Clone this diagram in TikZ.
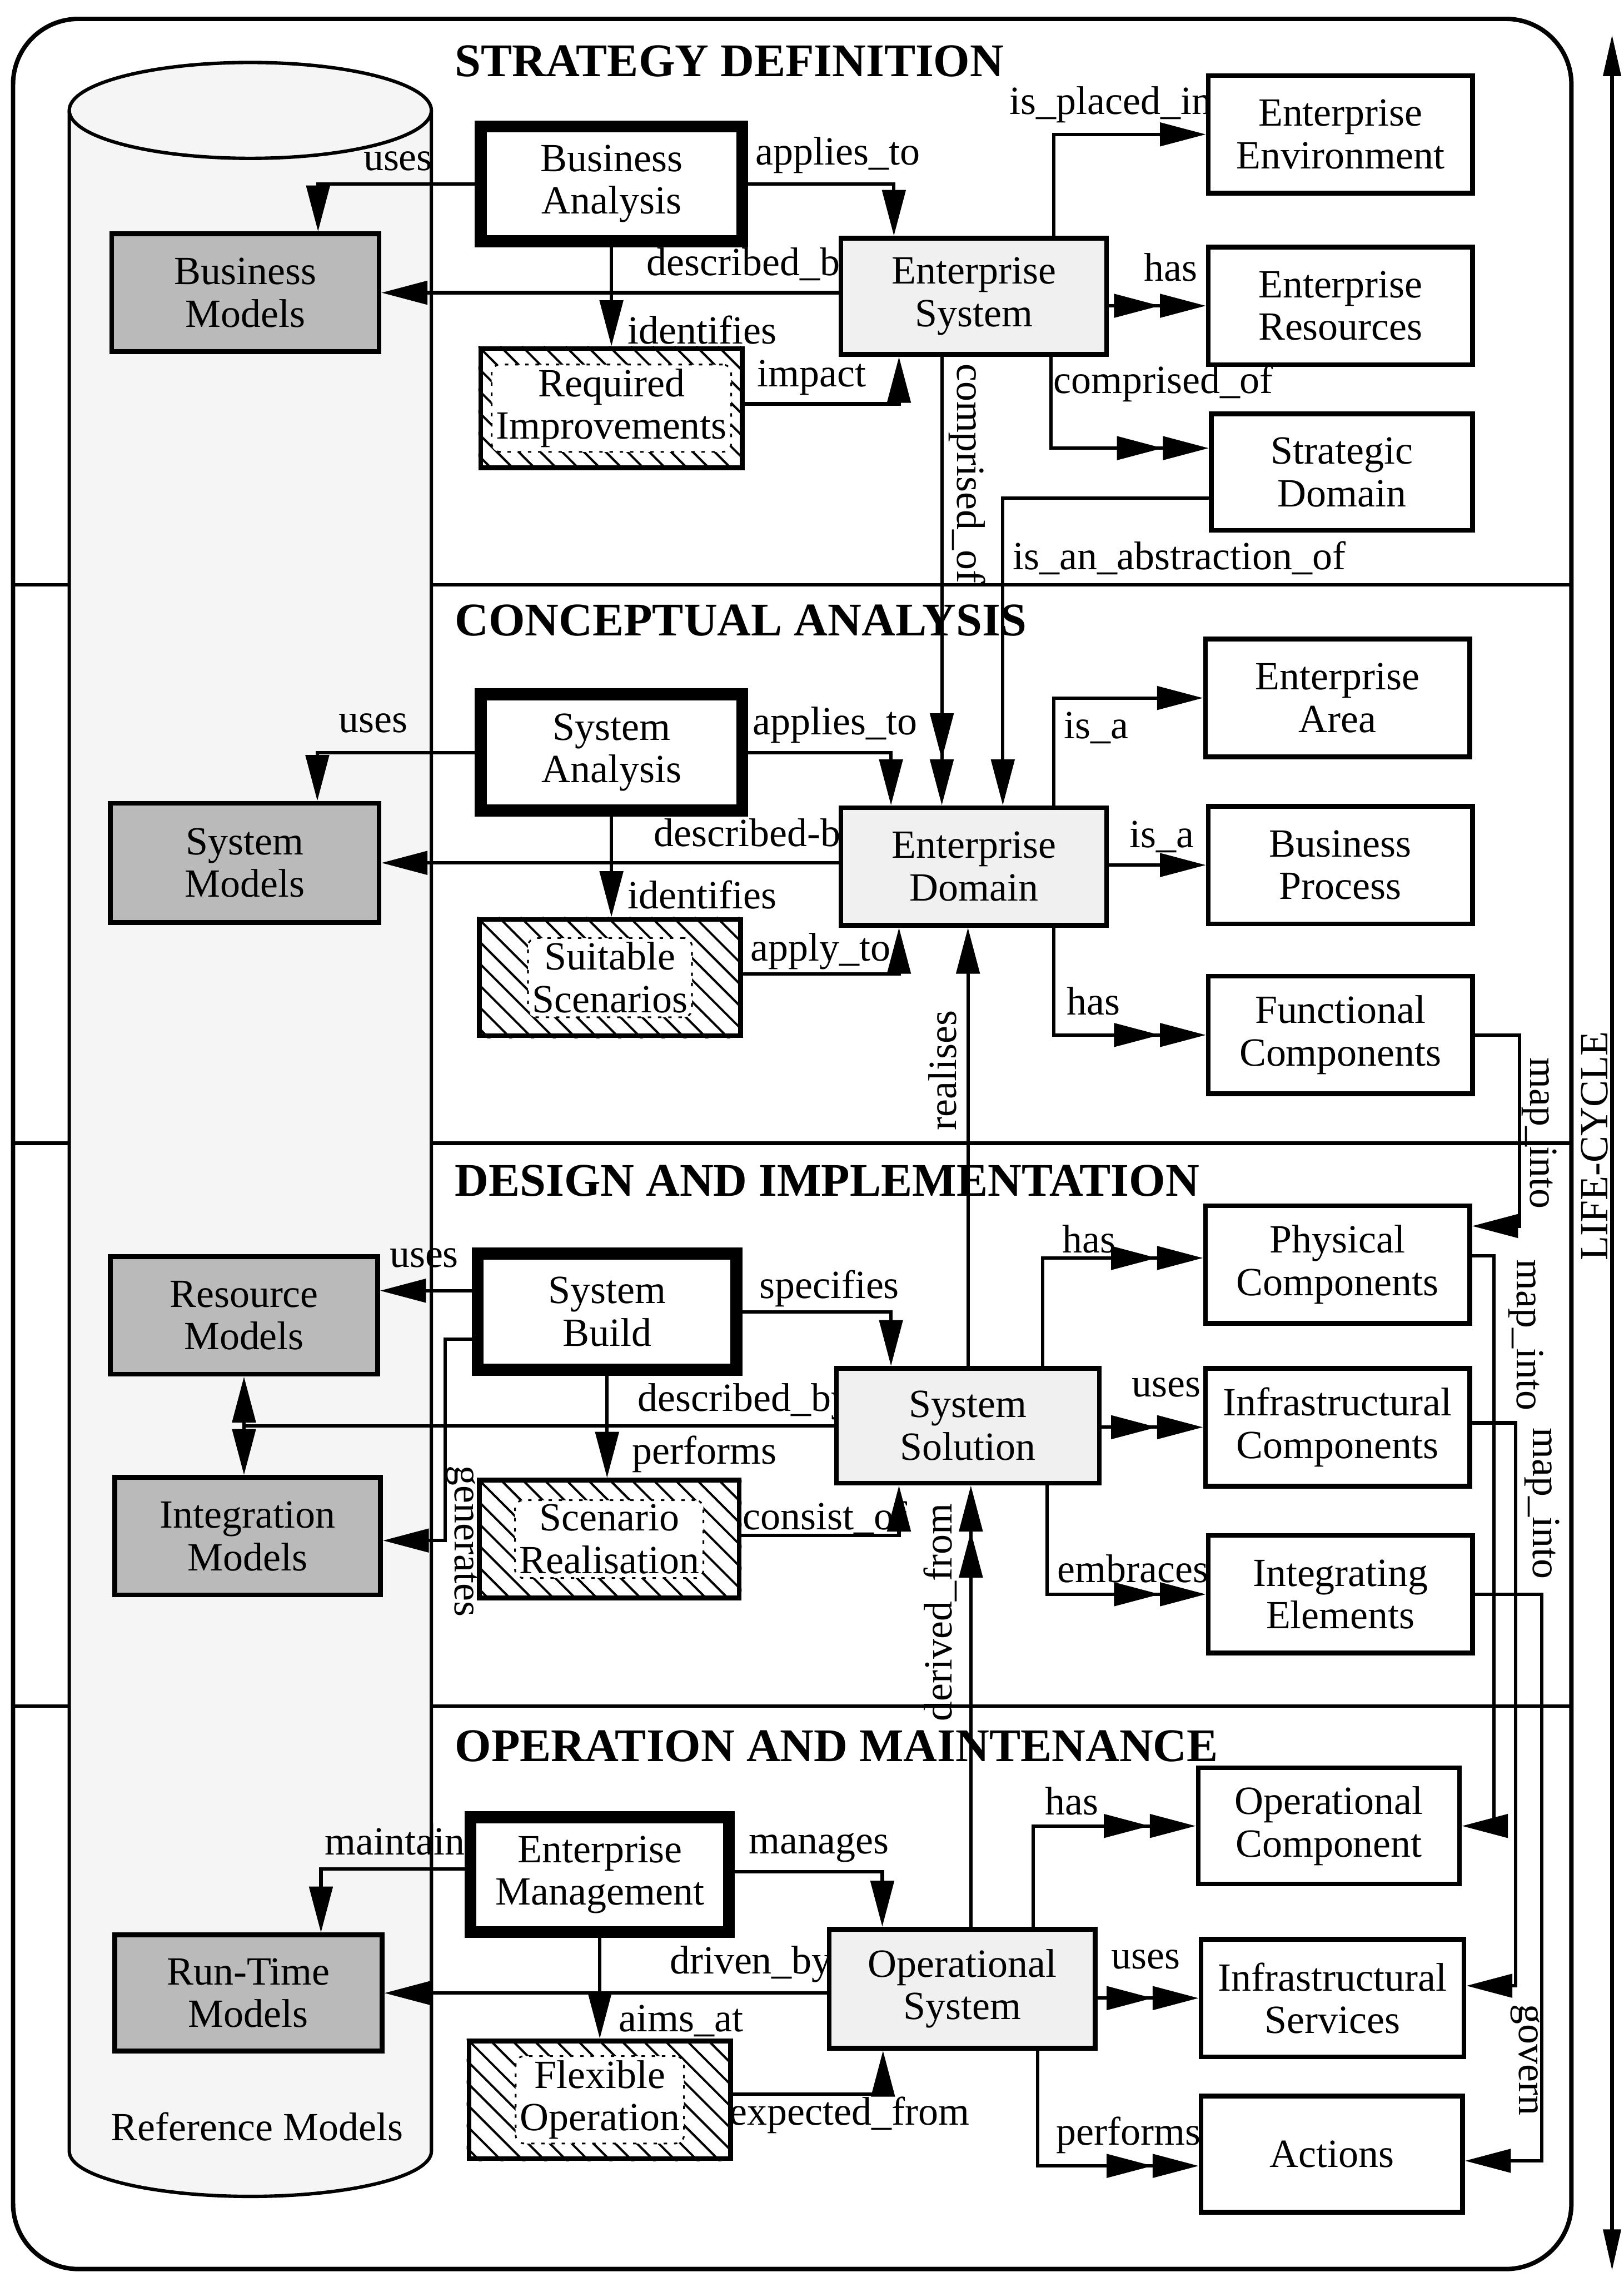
\documentclass[tikz,border=0pt]{standalone}
\usepackage{fontspec}
\setmainfont{Liberation Serif}
\usetikzlibrary{arrows.meta,calc,fit}

% diagonal hatching inside a named rectangular node
\newcommand\hatchin[1]{%
  \begin{scope}
    \clip (#1.north west) rectangle (#1.south east);
    \foreach \k in {-90,-75,...,195}
      \draw[hatchline] ($(#1.north west)+(\k,0)$) -- ++(100,100);
  \end{scope}}

\begin{document}
\begin{tikzpicture}[x=0.03cm,y=-0.03cm,
  every node/.style={font=\fontsize{23.5}{25}\selectfont},
  conn/.style={line width=2pt},
  tipA/.style={-{Triangle[length=0.95cm,width=0.48cm]}},
  tipB/.style={-{Triangle[length=0.95cm,width=0.48cm,sep=0pt]Triangle[length=0.95cm,width=0.48cm]}},
  basebox/.style={draw,line width=2.8pt,inner sep=0pt},
  plainbox/.style={basebox,fill=white},
  sysbox/.style={basebox,fill=black!6},
  modelbox/.style={basebox,fill=black!27},
  hatchbox/.style={basebox,fill=white},
  actbox/.style={draw,line width=7pt,inner sep=0pt,fill=white},
  btext/.style={inner sep=0pt,align=center},
  clearlbl/.style={fill=white,rounded corners=5pt,inner sep=2.5pt,align=center,draw,line width=1pt,dash pattern=on 2pt off 4pt},
  lbl/.style={inner sep=0pt},
  sectitle/.style={inner sep=0pt,anchor=west,font=\fontsize{27.5}{30}\selectfont\bfseries},
  sectline/.style={line width=2pt},
  hatchline/.style={line width=1.3pt},
]
\useasboundingbox (0,0) rectangle (1118,1567.5);

% frame and life-cycle phases
\draw[line width=2.6pt,rounded corners=1.35cm] (9,13) rectangle (1082,1562);
\draw[sectline] (9,402.5) -- (1082,402.5);
\draw[sectline] (9,787) -- (1082,787);
\draw[sectline] (9,1174.5) -- (1082,1174.5);

% reference model repository
\fill[black!4] (47.7,76) -- (47.7,1481) arc[start angle=180,end angle=360,x radius=3.74cm,y radius=0.93cm] -- (297,76) -- cycle;
\fill[black!4] (172.35,76) ellipse[x radius=3.74cm,y radius=0.99cm];
\draw[line width=2pt] (47.7,76) -- (47.7,1481) arc[start angle=180,end angle=360,x radius=3.74cm,y radius=0.93cm] -- (297,76);
\draw[line width=2pt] (172.35,76) ellipse[x radius=3.74cm,y radius=0.99cm];
\node[lbl] (refm) at (177,1464) {Reference Models};

% phase titles
\node[sectitle] (t1) at (313,42) {STRATEGY DEFINITION};
\node[sectitle] (t2) at (313,427) {CONCEPTUAL ANALYSIS};
\node[sectitle] (t3) at (313,813) {DESIGN AND IMPLEMENTATION};
\node[sectitle] (t4) at (313,1202) {OPERATION AND MAINTENANCE};

% relation labels
\node[lbl] (l1) at (274,111) {uses};
\node[lbl] (l2) at (577,107) {applies\_to};
\node[lbl,anchor=west] (l3) at (445,183) {described\_by};
\node[lbl,anchor=west] (l4) at (432,227) {identifies};
\node[lbl] (l5) at (559,260) {impact};
\node[lbl,anchor=west] (l6) at (695,72) {is\_placed\_in};
\node[lbl] (l7) at (806,184) {has};
\node[lbl] (l8) at (801,264) {comprised\_of};
\node[lbl] (l9) at (812,384) {is\_an\_abstraction\_of};
\node[lbl,rotate=-90] (l10) at (666,326) {comprised\_of};

\node[lbl] (l11) at (257,498) {uses};
\node[lbl] (l12) at (575,499) {applies\_to};
\node[lbl,anchor=west] (l13) at (450,576) {described-by};
\node[lbl,anchor=west] (l14) at (432,616) {identifies};
\node[lbl] (l15) at (565,655) {apply\_to};
\node[lbl] (l16) at (755,501) {is\_a};
\node[lbl] (l17) at (800,576) {is\_a};
\node[lbl] (l18) at (753,689) {has};
\node[lbl,rotate=-90] (l19) at (1060,780) {map\_into};
\node[lbl,rotate=90] (l20) at (649,737) {realises};

\node[lbl] (l21) at (292,866) {uses};
\node[lbl] (l22) at (571,887) {specifies};
\node[lbl,anchor=west] (l23) at (439,965) {described\_by};
\node[lbl,anchor=west] (l24) at (435,1001) {performs};
\node[lbl,rotate=-90] (l25) at (318,1061) {generates};
\node[lbl] (l26) at (568,1045) {consist\_of};
\node[lbl] (l27) at (750,853) {has};
\node[lbl] (l28) at (803,955) {uses};
\node[lbl] (l29) at (780,1080) {embraces};
\node[lbl,rotate=-90] (l30) at (1050.7,919) {map\_into};
\node[lbl,rotate=-90] (l31) at (1061.8,1035) {map\_into};
\node[lbl,rotate=90] (l32) at (647.5,1110) {derived\_from};

\node[lbl] (l33) at (272,1268) {maintain};
\node[lbl] (l34) at (564,1272) {manages};
\node[lbl] (l35) at (517,1352) {driven\_by};
\node[lbl,anchor=west] (l36) at (426,1391) {aims\_at};
\node[lbl] (l37) at (585,1456) {expected\_from};
\node[lbl] (l38) at (738,1240) {has};
\node[lbl] (l39) at (789,1349) {uses};
\node[lbl] (l40) at (777,1470) {performs};
\node[lbl,rotate=-90] (l41) at (1050,1418) {govern};
\node[lbl,rotate=90] (lc) at (1098,789) {LIFE-CYCLE};

% activities
\node[actbox,fit={(331,87) (511,166)}] (ba) {};
\node[actbox,fit={(331,478) (511,558)}] (sa) {};
\node[actbox,fit={(329,863) (507,943)}] (sb) {};
\node[actbox,fit={(324,1251) (502,1330)}] (em) {};
\node[btext] (ba-t) at (ba.center) {Business\\Analysis};
\node[btext] (sa-t) at (sa.center) {System\\Analysis};
\node[btext] (sb-t) at (sb.center) {System\\Build};
\node[btext] (em-t) at (em.center) {Enterprise\\Management};

% models
\node[modelbox,fit={(77,161) (261,242)}] (bm) {};
\node[modelbox,fit={(76,553) (261,635)}] (sm) {};
\node[modelbox,fit={(76,865) (260,946)}] (rm) {};
\node[modelbox,fit={(79,1017) (262,1098)}] (im) {};
\node[modelbox,fit={(79,1332) (263,1412)}] (rtm) {};
\node[btext] (bm-t) at (bm.center) {Business\\Models};
\node[btext] (sm-t) at (sm.center) {System\\Models};
\node[btext] (rm-t) at (rm.center) {Resource\\Models};
\node[btext] (im-t) at (im.center) {Integration\\Models};
\node[btext] (rtm-t) at (rtm.center) {Run-Time\\Models};

% systems
\node[sysbox,fit={(579,164) (762,244)}] (es) {};
\node[sysbox,fit={(579,556) (762,637)}] (ed) {};
\node[sysbox,fit={(576,942) (757,1021)}] (ssol) {};
\node[sysbox,fit={(571,1328) (754,1410)}] (os) {};
\node[btext] (es-t) at (es.center) {Enterprise\\System};
\node[btext] (ed-t) at (ed.center) {Enterprise\\Domain};
\node[btext] (ssol-t) at (ssol.center) {System\\Solution};
\node[btext] (os-t) at (os.center) {Operational\\System};

% components
\node[plainbox,fit={(832,52) (1014,133)}] (eenv) {};
\node[plainbox,fit={(832,170) (1014,251)}] (eres) {};
\node[plainbox,fit={(834,285) (1014,365)}] (sdom) {};
\node[plainbox,fit={(830,440) (1012,521)}] (earea) {};
\node[plainbox,fit={(832,555) (1014,636)}] (bproc) {};
\node[plainbox,fit={(832,672) (1014,753)}] (fcomp) {};
\node[plainbox,fit={(830,830) (1012,911)}] (physc) {};
\node[plainbox,fit={(830,942) (1012,1023)}] (infc) {};
\node[plainbox,fit={(832,1057) (1014,1138)}] (inte) {};
\node[plainbox,fit={(825,1217) (1005,1297)}] (opc) {};
\node[plainbox,fit={(827,1335) (1008,1416)}] (infs) {};
\node[plainbox,fit={(827,1443) (1007,1523)}] (act) {};
\node[btext] (eenv-t) at (eenv.center) {Enterprise\\Environment};
\node[btext] (eres-t) at (eres.center) {Enterprise\\Resources};
\node[btext] (sdom-t) at (sdom.center) {Strategic\\Domain};
\node[btext] (earea-t) at (earea.center) {Enterprise\\Area};
\node[btext] (bproc-t) at (bproc.center) {Business\\Process};
\node[btext] (fcomp-t) at (fcomp.center) {Functional\\Components};
\node[btext] (physc-t) at (physc.center) {Physical\\Components};
\node[btext] (infc-t) at (infc.center) {Infrastructural\\Components};
\node[btext] (inte-t) at (inte.center) {Integrating\\Elements};
\node[btext] (opc-t) at (opc.center) {Operational\\Component};
\node[btext] (infs-t) at (infs.center) {Infrastructural\\Services};
\node[btext] (act-t) at (act.center) {Actions};

% hatched goal boxes
\node[hatchbox,fit={(331,240) (511,322)}] (ri) {};
\hatchin{ri}
\node[clearlbl] (ri-t) at (ri.center) {Required\\Improvements};
\node[hatchbox,fit={(330,633) (510,713)}] (ss) {};
\hatchin{ss}
\node[clearlbl] (ss-t) at (ss.center) {Suitable\\Scenarios};
\node[hatchbox,fit={(330,1019) (509,1100)}] (sr) {};
\hatchin{sr}
\node[clearlbl] (sr-t) at (sr.center) {Scenario\\Realisation};
\node[hatchbox,fit={(323,1405) (503,1486)}] (fo) {};
\hatchin{fo}
\node[clearlbl] (fo-t) at (fo.center) {Flexible\\Operation};

% strategy definition relations
\draw[conn,tipA] (ba.west) -| ($(bm.north)+(50,0)$);
\draw[conn,tipA] (ba.east) -| ($(es.north)+(-55,0)$);
\draw[conn,tipA] (bm.east -| es.west) -- (bm.east);
\draw[conn,tipA] (ba.south) -- (ri.north -| ba.south);
\draw[conn,tipA] ($(ri.east)+(0,-3)$) -| ($(es.south)+(-51.5,0)$);
\draw[conn,tipA] ($(es.north)+(55,0)$) |- (eenv.west);
\draw[conn,tipB] (eres.west -| es.east) -- (eres.west);
\draw[conn,tipB] ($(es.south)+(53,0)$) |- ($(sdom.west)+(0,-16.5)$);
\draw[conn,tipA] ($(sdom.west)+(0,18)$) -| ($(ed.north)+(20,0)$);
\draw[conn,tipB] ($(es.south)+(-22,0)$) -- ($(ed.north)+(-22,0)$);

% conceptual analysis relations
\draw[conn,tipA] (sa.west) -| ($(sm.north)+(50,0)$);
\draw[conn,tipA] (sa.east) -| ($(ed.north)+(-57,0)$);
\draw[conn,tipA] (sm.east -| ed.west) -- (sm.east);
\draw[conn,tipA] (sa.south) -- (ss.north -| sa.south);
\draw[conn,tipA] ($(ss.east)+(0,-2.5)$) -| ($(ed.south)+(-51.5,0)$);
\draw[conn,tipA] ($(ed.north)+(55,0)$) |- (earea.west);
\draw[conn,tipA] (bproc.west -| ed.east) -- (bproc.west);
\draw[conn,tipB] ($(ed.south)+(55,0)$) |- (fcomp.west);
\draw[conn,tipA] (fcomp.east) -| ($(physc.east)+(32.5,-26.5)$) -- ($(physc.east)+(0,-26.5)$);

% design and implementation relations
\draw[conn,tipA] ($(sb.west)+(0,-14.5)$) -- ($(rm.east)+(0,-17)$);
\draw[conn,tipA] (sb.east) -| ($(ssol.north)+(-53,0)$);
\coordinate (jn) at (rm.south |- ssol.west);
\draw[conn] (ssol.west) -- (jn);
\draw[conn,tipA] (jn) -- (rm.south);
\draw[conn,tipA] (jn) -- (jn |- im.north);
\draw[conn,tipA] (sb.south) -- (sr.north -| sb.south);
\draw[conn,tipA] ($(sb.west)+(0,19)$) -| ($(im.east)+(43,3)$) -- ($(im.east)+(0,3)$);
\draw[conn,tipA] ($(sr.east)+(0,-2.5)$) -| ($(ssol.south)+(-47.5,0)$);
\draw[conn,tipA] (ssol.north) -- (ssol.north |- ed.south);
\draw[conn,tipB] ($(ssol.north)+(51.5,0)$) |- ($(physc.west)+(0,-4.5)$);
\draw[conn,tipB] (infc.west -| ssol.east) -- (infc.west);
\draw[conn,tipB] ($(ssol.south)+(54.5,0)$) |- (inte.west);
\draw[conn,tipA] ($(physc.east)+(0,-6)$) -| ($(opc.east)+(22,0)$) -- (opc.east);
\draw[conn,tipA] ($(infc.east)+(0,-3)$) -| ($(infs.east)+(34,-8.5)$) -- ($(infs.east)+(0,-8.5)$);
\draw[conn,tipA] (inte.east) -| ($(act.east)+(53,4.5)$) -- ($(act.east)+(0,4.5)$);
\coordinate (df) at ($(os.north)+(6,0)$);
\draw[conn,tipB] (df) -- (df |- ssol.south);

% operation and maintenance relations
\draw[conn,tipA] ($(em.west)+(0,-4)$) -| ($(rtm.north)+(50,0)$);
\draw[conn,tipA] ($(em.east)+(0,-2)$) -| ($(os.north)+(-55,0)$);
\draw[conn,tipA] (rtm.east -| os.west) -- (rtm.east);
\draw[conn,tipA] (em.south) -- (fo.north -| em.south);
\draw[conn,tipA] ($(fo.east)+(0,-4)$) -| ($(os.south)+(-54.5,0)$);
\draw[conn,tipB] ($(os.north)+(49,0)$) |- (opc.west);
\draw[conn,tipB] (infs.west -| os.east) -- (infs.west);
\draw[conn,tipB] ($(os.south)+(52,0)$) |- ($(act.west)+(0,8)$);

% life-cycle axis
\coordinate (lctop) at (1110,24);
\coordinate (lcbot) at (1110,1563);
\draw[conn,{Triangle[length=0.85cm,width=0.36cm]}-{Triangle[length=0.85cm,width=0.36cm]}] (lctop) -- (lcbot);
\end{tikzpicture}
\end{document}
